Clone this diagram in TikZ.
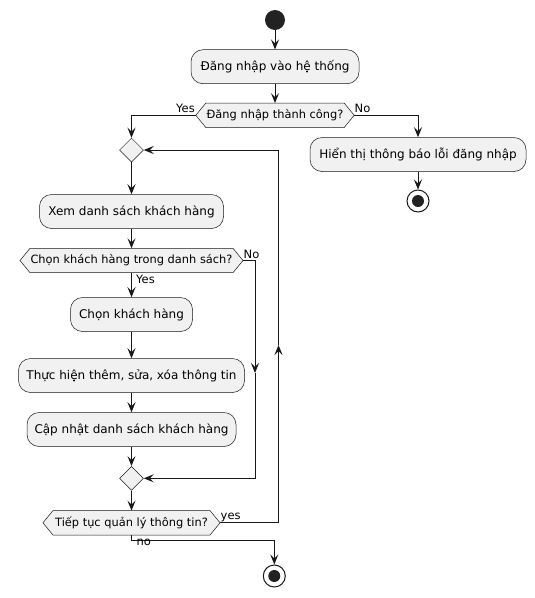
\documentclass[tikz,border=0pt]{standalone}
\usepackage{fontspec}
\setmainfont{DejaVu Sans}
\usetikzlibrary{arrows.meta,shapes.geometric,calc,backgrounds}
\definecolor{pfill}{HTML}{F1F1F1}
\definecolor{pline}{HTML}{181818}
\definecolor{pdot}{HTML}{222222}
\begin{document}
\begin{tikzpicture}[x=1pt,y=-1pt,
  act/.style={draw=pline, line width=0.5pt, fill=pfill, rounded corners=12pt, minimum height=34pt, inner sep=0pt, font=\fontsize{12}{14}\selectfont},
  hexl/.style={draw=pline, line width=0.5pt, fill=pfill},
  hext/.style={inner sep=0pt, minimum height=24pt, font=\fontsize{11.4}{13}\selectfont},
  merge/.style={diamond, aspect=1, draw=pline, line width=0.5pt, fill=pfill, minimum width=24pt, minimum height=24pt, inner sep=0pt},
  startdot/.style={circle, fill=pdot, minimum size=20pt, inner sep=0pt},
  stopdot/.style={circle, draw=pline, line width=1pt, fill=white, minimum size=22pt, inner sep=0pt,
    path picture={\fill[pdot] (path picture bounding box.center) circle (6pt);}},
  flow/.style={draw=pline, line width=1pt, -{Stealth[length=10pt,width=8pt,inset=4pt]}},
  lab/.style={font=\fontsize{11.5}{13}\selectfont, inner sep=0pt}
]
\useasboundingbox (0,0) rectangle (535,598);

\node[startdot] (start) at (275,20) {};
\node[act, minimum width=168pt] (b1) at (275,66.7) {Đăng nhập vào hệ thống};
\node[hext, minimum width=138pt] (d1) at (275,115.3) {Đăng nhập thành công?};
\node[merge] (m1) at (131.5,150) {};
\node[act, minimum width=216pt] (b2) at (418,154.5) {Hiển thị thông báo lỗi đăng nhập};
\node[stopdot] (stop1) at (418,201) {};
\node[act, minimum width=184pt] (b3) at (131.5,211.5) {Xem danh sách khách hàng};
\node[hext, minimum width=202.6pt] (d2) at (131.5,260.5) {Chọn khách hàng trong danh sách?};
\node[act, minimum width=122pt] (b4) at (131.5,314.5) {Chọn khách hàng};
\node[act, minimum width=226pt] (b5) at (131.5,375.5) {Thực hiện thêm, sửa, xóa thông tin};
\node[act, minimum width=209pt] (b6) at (131.5,429.5) {Cập nhật danh sách khách hàng};
\node[merge] (m2) at (131.5,478.3) {};
\node[hext, minimum width=156.7pt] (d3) at (131.5,522.8) {Tiếp tục quản lý thông tin?};
\node[stopdot] (stop2) at (274.3,576) {};

\foreach \n in {d1,d2,d3}{
  \coordinate (\n L) at ($(\n.west)+(-10,0)$);
  \coordinate (\n R) at ($(\n.east)+(10,0)$);
}
\begin{scope}[on background layer]
\foreach \n in {d1,d2,d3}{
  \draw[hexl] (\n.north west) -- (\n.north east) -- (\n R) -- (\n.south east) -- (\n.south west) -- (\n L) -- cycle;
}
\end{scope}

\coordinate (c2) at (255,373);
\coordinate (c3) at (278.5,345);
\coordinate (c4) at (131.5,540.3);

\draw[flow] (start) -- (b1);
\draw[flow] (b1) -- (d1);
\draw[flow] (d1L) -| (m1.north);
\draw[flow] (d1R) -| (b2.north);
\draw[flow] (b2) -- (stop1);
\draw[flow] (m1) -- (b3);
\draw[flow] (b3) -- (d2);
\draw[flow] (d2) -- (b4);
\draw[flow] (d2R) -| (c2);
\draw[flow] (c2) |- (m2.east);
\draw[flow] (b4) -- (b5);
\draw[flow] (b5) -- (b6);
\draw[flow] (b6) -- (m2);
\draw[flow] (m2) -- (d3);
\draw[flow] (d3R) -| (c3);
\draw[flow] (c3) |- (m1.east);
\draw[flow] (d3.south) -- (c4) -| (stop2.north);

\node[lab, anchor=base east] (lyes1) at (195,112.7) {Yes};
\node[lab, anchor=base west] (lno1) at (354.5,112.7) {No};
\node[lab, anchor=base west] (lyes2) at (136,283) {Yes};
\node[lab, anchor=base west] (lno2) at (243.5,258) {No};
\node[lab, anchor=base west] (lyes3) at (220.5,519.5) {yes};
\node[lab, anchor=base west] (lno3) at (136.5,545.5) {no};
\end{tikzpicture}
\end{document}
